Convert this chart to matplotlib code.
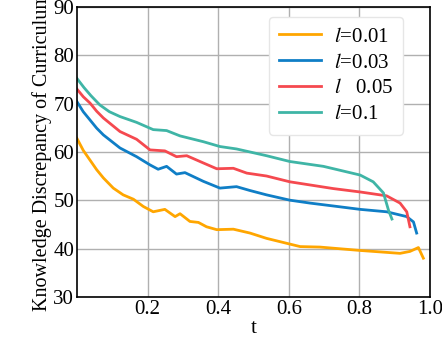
import matplotlib
matplotlib.use('Agg')
import matplotlib.pyplot as plt

plt.rcParams['font.family'] = ['Liberation Serif', 'DejaVu Serif']
plt.rcParams['mathtext.fontset'] = 'stix'

t1 = [0.0, 0.018, 0.037, 0.056, 0.075, 0.103, 0.131, 0.160, 0.188, 0.216, 0.249, 0.278, 0.292, 0.320,
      0.344, 0.367, 0.396, 0.443, 0.490, 0.537, 0.632, 0.688, 0.802, 0.915, 0.943, 0.967, 0.981]
l001 = [62.8, 60.3, 58.3, 56.3, 54.6, 52.5, 51.1, 50.2, 48.7, 47.6, 48.1, 46.6, 47.2, 45.6,
        45.4, 44.5, 43.9, 44.0, 43.2, 42.1, 40.4, 40.3, 39.6, 39.0, 39.4, 40.2, 38.0]

t2 = [0.0, 0.018, 0.037, 0.056, 0.075, 0.122, 0.169, 0.207, 0.230, 0.254, 0.282, 0.306, 0.358, 0.405,
      0.452, 0.490, 0.537, 0.603, 0.660, 0.726, 0.802, 0.877, 0.934, 0.953, 0.962]
l003 = [70.4, 68.3, 66.6, 64.9, 63.5, 60.8, 59.0, 57.3, 56.4, 57.0, 55.4, 55.7, 53.9, 52.5,
        52.8, 52.0, 51.1, 50.0, 49.4, 48.8, 48.1, 47.6, 46.6, 45.5, 43.2]

t3 = [0.0, 0.018, 0.037, 0.056, 0.075, 0.122, 0.169, 0.207, 0.249, 0.282, 0.311, 0.358, 0.396, 0.443,
      0.481, 0.537, 0.603, 0.726, 0.802, 0.877, 0.915, 0.934, 0.943]
l005 = [73.0, 71.4, 70.1, 68.4, 67.0, 64.2, 62.6, 60.4, 60.2, 59.0, 59.2, 57.7, 56.5, 56.6,
        55.6, 55.0, 53.8, 52.4, 51.7, 50.9, 49.4, 47.6, 44.5]

t4 = [0.0, 0.020, 0.040, 0.065, 0.092, 0.122, 0.169, 0.216, 0.254, 0.292, 0.358, 0.405, 0.452, 0.537,
      0.603, 0.698, 0.802, 0.839, 0.868, 0.882, 0.892]
l01 = [75.2, 73.3, 71.6, 69.7, 68.3, 67.3, 66.1, 64.6, 64.4, 63.3, 62.1, 61.1, 60.6, 59.2,
       58.0, 57.0, 55.2, 53.8, 51.5, 48.0, 46.1]

fig = plt.figure(figsize=(4.42, 3.42), dpi=100)
ax = fig.add_axes([0.174, 0.132, 0.799, 0.848])

ax.plot(t1, l001, color='#ffa600', lw=2, label='$l$=0.01')
ax.plot(t2, l003, color='#0f7ec6', lw=2, label='$l$=0.03')
ax.plot(t3, l005, color='#f5494f', lw=2, label='$l$   0.05')
ax.plot(t4, l01, color='#3fb5a6', lw=2, label='$l$=0.1')

ax.set_xlim(0, 1.0)
ax.set_ylim(30, 90)
ax.set_xticks([0.2, 0.4, 0.6, 0.8, 1.0])
ax.set_yticks([30, 40, 50, 60, 70, 80, 90])
ax.grid(True, color='#b0b0b0', lw=1)
ax.tick_params(length=0, labelsize=15, pad=2)
ax.set_xlabel('t', fontsize=15, labelpad=0)
ax.set_ylabel('Knowledge Discrepancy of Curriculum', fontsize=14.5, labelpad=1)
for s in ax.spines.values():
    s.set_linewidth(1.2)

ax.legend(loc='upper right', fontsize=15, handlelength=2.0, handletextpad=0.6,
          borderpad=0.5, labelspacing=0.3, borderaxespad=0,
          bbox_to_anchor=(0.924, 0.966), framealpha=1, edgecolor='#e6e6e6')

fig.savefig('out.png', dpi=100)
